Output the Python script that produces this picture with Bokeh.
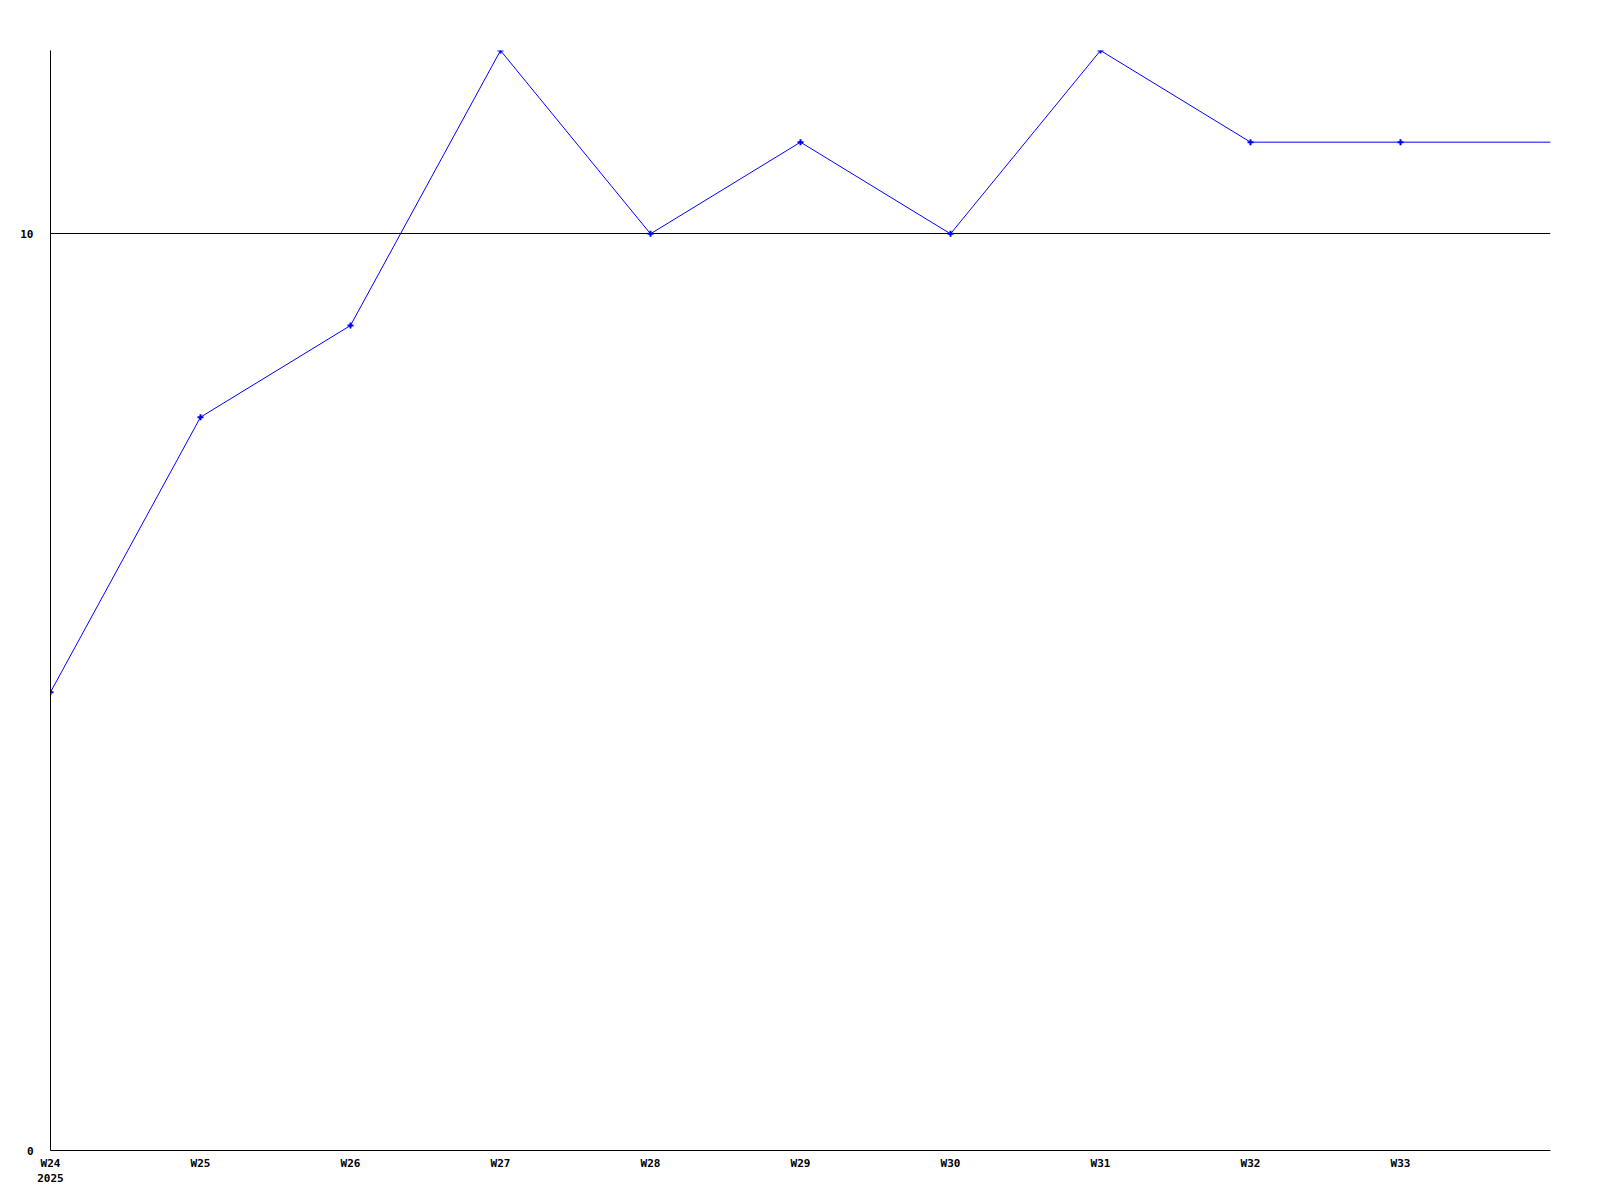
from bokeh.plotting import figure
from bokeh.models import Range1d, FixedTicker, ColumnDataSource
from bokeh.embed import file_html
from bokeh.resources import INLINE

# Data
week_labels = ["W24", "W25", "W26", "W27", "W28", "W29", "W30", "W31", "W32", "W33"]
year_label = "2025"
values = [5, 8, 9, 12, 10, 11, 10, 12, 11, 11]
trailing_value = 11  # line continues to the right edge (W34) without a marker
y_ticks = [0, 10]
y_max = 12

xs = list(range(len(week_labels)))
line_x = xs + [len(week_labels)]
line_y = values + [trailing_value]

FONT = "DejaVu Sans Mono"

p = figure(
    output_backend="svg",
    toolbar_location=None,
    frame_width=1500,
    frame_height=1100,
    min_border_left=50,
    min_border_top=50,
    min_border_right=30,
    min_border_bottom=44,
    x_range=Range1d(0, len(week_labels)),
    y_range=Range1d(0, y_max),
)
p.outline_line_color = None
p.background_fill_color = "white"

line_src = ColumnDataSource(dict(x=line_x, y=line_y))
pt_src = ColumnDataSource(dict(x=xs, y=values))
p.line("x", "y", source=line_src, line_color="#0000ff", line_width=1)
p.scatter("x", "y", source=pt_src, marker="cross", size=6, line_color="#0000ff", line_width=2)

# x axis
p.xaxis.ticker = FixedTicker(ticks=xs)
overrides = {i: lab for i, lab in enumerate(week_labels)}
overrides[0] = week_labels[0] + "\n" + year_label
p.xaxis.major_label_overrides = overrides
p.xaxis.major_tick_line_color = None
p.xaxis.minor_tick_line_color = None
p.xaxis.axis_line_color = "black"
p.xaxis.major_label_standoff = 0
p.xaxis.major_label_text_font = FONT
p.xaxis.major_label_text_font_style = "bold"
p.xaxis.major_label_text_font_size = "11px"
p.xaxis.major_label_text_color = "black"

# y axis
p.yaxis.ticker = FixedTicker(ticks=y_ticks)
p.yaxis.major_tick_line_color = None
p.yaxis.minor_tick_line_color = None
p.yaxis.axis_line_color = "black"
p.yaxis.major_label_standoff = 11
p.yaxis.major_label_text_font = FONT
p.yaxis.major_label_text_font_style = "bold"
p.yaxis.major_label_text_font_size = "11px"
p.yaxis.major_label_text_color = "black"

# grid
p.xgrid.grid_line_color = None
p.ygrid.ticker = FixedTicker(ticks=[10])
p.ygrid.grid_line_color = "black"
p.ygrid.grid_line_alpha = 1.0
p.ygrid.grid_line_width = 1

open("out.html", "w").write(file_html(p, INLINE))
